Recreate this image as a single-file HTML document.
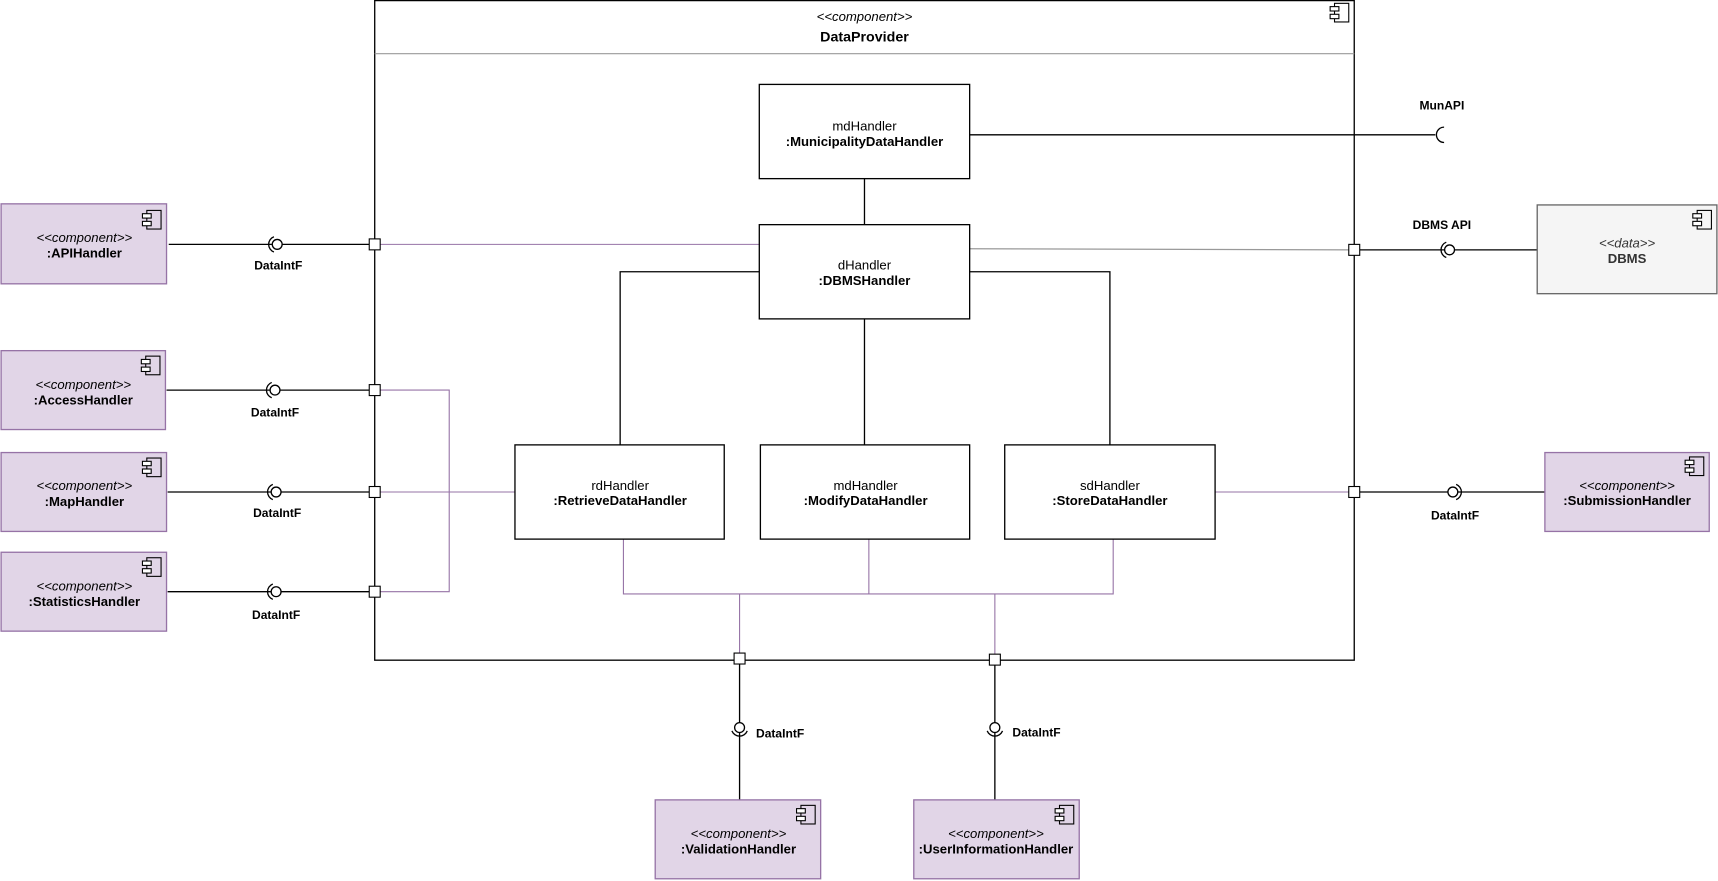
<!DOCTYPE html>
<html><head><meta charset="utf-8"><style>
html,body{margin:0;padding:0;background:#fff;}
svg{display:block;}
text{font-family:"Liberation Sans",Arial,sans-serif;fill:#000;}
.b{font-weight:bold;}
.i{font-style:italic;}
</style></head><body>
<svg width="1718" height="881" viewBox="0 0 1568 804" xmlns="http://www.w3.org/2000/svg">
<defs>
<g id="ic" fill="#fff" stroke="#000" stroke-width="1">
<rect x="4" y="0" width="13" height="17" fill="none"/>
<rect x="0" y="3" width="8" height="4"/>
<rect x="0" y="10" width="8" height="4"/>
</g>
</defs>
<!-- main container -->
<rect x="342" y="0.5" width="894" height="602" fill="#fff" stroke="#000" stroke-width="1.2"/>
<line x1="342" y1="49" x2="1236" y2="49" stroke="#999" stroke-width="1"/>
<use href="#ic" x="1214" y="3"/>
<text x="789" y="19" font-size="12" text-anchor="middle" class="i">&lt;&lt;component&gt;&gt;</text>
<text x="789" y="38" font-size="13" text-anchor="middle" class="b">DataProvider</text>

<g stroke="#000" stroke-width="1.2" fill="none">
<!-- internal black connectors -->
<line x1="885" y1="123" x2="1310" y2="123"/>
<path d="M1318 116 A7 7 0 0 0 1318 130"/>
<line x1="789" y1="163" x2="789" y2="205"/>
<polyline points="693,248 566,248 566,406"/>
<polyline points="885,248 1013,248 1013,406"/>
<line x1="789" y1="291" x2="789" y2="406"/>
<!-- left externals -->
<line x1="154" y1="223" x2="342" y2="223"/>
<line x1="152" y1="356" x2="342" y2="356"/>
<line x1="153" y1="449" x2="342" y2="449"/>
<line x1="153" y1="540" x2="342" y2="540"/>
<!-- right -->
<line x1="1236" y1="228" x2="1403" y2="228"/>
<line x1="1236" y1="449" x2="1410" y2="449"/>
<!-- bottom -->
<line x1="675" y1="602" x2="675" y2="730"/>
<line x1="908" y1="602" x2="908" y2="730"/>
</g>
<g stroke="#9673a6" stroke-width="1" fill="none">
<line x1="342" y1="223" x2="693" y2="223"/>
<polyline points="342,356 410,356 410,540 342,540"/>
<line x1="342" y1="449" x2="470" y2="449"/>
<line x1="1109" y1="449" x2="1236" y2="449"/>
<polyline points="569,492 569,542 1016,542 1016,492"/>
<line x1="793" y1="492" x2="793" y2="542"/>
<line x1="675" y1="542" x2="675" y2="602"/>
<line x1="908" y1="542" x2="908" y2="602"/>
</g>
<line x1="885" y1="227" x2="1236" y2="228" stroke="#999" stroke-width="1.2"/>

<!-- sockets -->
<g stroke="#000" stroke-width="1.2" fill="#fff">
<circle cx="253" cy="223" r="4.5"/><path d="M250 216 A7.5 7.5 0 0 0 250 230" fill="none"/>
<circle cx="251" cy="356" r="4.5"/><path d="M248 349 A7.5 7.5 0 0 0 248 363" fill="none"/>
<circle cx="252" cy="449" r="4.5"/><path d="M249 442 A7.5 7.5 0 0 0 249 456" fill="none"/>
<circle cx="252" cy="540" r="4.5"/><path d="M249 533 A7.5 7.5 0 0 0 249 547" fill="none"/>
<circle cx="1323" cy="228" r="4.5"/><path d="M1320 221 A7.5 7.5 0 0 0 1320 235" fill="none"/>
<circle cx="1326" cy="449" r="4.5"/><path d="M1329 442 A7.5 7.5 0 0 1 1329 456" fill="none"/>
<circle cx="675" cy="664" r="4.5"/><path d="M668 667 A7.5 7.5 0 0 0 682 667" fill="none"/>
<circle cx="908" cy="664" r="4.5"/><path d="M901 667 A7.5 7.5 0 0 0 915 667" fill="none"/>
</g>
<!-- ports -->
<g stroke="#000" stroke-width="1" fill="#fff">
<rect x="337" y="218" width="10" height="10"/>
<rect x="337" y="351" width="10" height="10"/>
<rect x="337" y="444" width="10" height="10"/>
<rect x="337" y="535" width="10" height="10"/>
<rect x="1231" y="223" width="10" height="10"/>
<rect x="1231" y="444" width="10" height="10"/>
<rect x="670" y="596" width="10" height="10"/>
<rect x="903" y="597" width="10" height="10"/>
</g>

<!-- internal boxes -->
<g stroke="#000" stroke-width="1.2" fill="#fff">
<rect x="693" y="77" width="192" height="86"/>
<rect x="693" y="205" width="192" height="86"/>
<rect x="470" y="406" width="191" height="86"/>
<rect x="694" y="406" width="191" height="86"/>
<rect x="917" y="406" width="192" height="86"/>
</g>
<g font-size="12" text-anchor="middle">
<text x="789" y="119">mdHandler</text><text x="789" y="133" class="b">:MunicipalityDataHandler</text>
<text x="789" y="246">dHandler</text><text x="789" y="260" class="b">:DBMSHandler</text>
<text x="566" y="447">rdHandler</text><text x="566" y="461" class="b">:RetrieveDataHandler</text>
<text x="790" y="447">mdHandler</text><text x="790" y="461" class="b">:ModifyDataHandler</text>
<text x="1013" y="447">sdHandler</text><text x="1013" y="461" class="b">:StoreDataHandler</text>
</g>

<!-- external components -->
<g stroke="#9673a6" stroke-width="1.2" fill="#e1d5e7">
<rect x="1" y="186" width="151" height="73"/>
<rect x="1" y="320" width="150" height="72"/>
<rect x="1" y="413" width="151" height="72"/>
<rect x="1" y="504" width="151" height="72"/>
<rect x="1410" y="413" width="150" height="72"/>
<rect x="598" y="730" width="151" height="72"/>
<rect x="834" y="730" width="151" height="72"/>
</g>
<rect x="1403" y="187" width="164" height="81" fill="#f5f5f5" stroke="#666" stroke-width="1.2"/>
<use href="#ic" x="130" y="192"/>
<use href="#ic" x="129" y="325"/>
<use href="#ic" x="130" y="418"/>
<use href="#ic" x="130" y="509"/>
<use href="#ic" x="1538" y="417"/>
<use href="#ic" x="727" y="735"/>
<use href="#ic" x="963" y="735"/>
<use href="#ic" x="1545" y="192"/>
<g font-size="12" text-anchor="middle">
<text x="77" y="221" class="i">&lt;&lt;component&gt;&gt;</text><text x="77" y="235" class="b">:APIHandler</text>
<text x="76" y="355" class="i">&lt;&lt;component&gt;&gt;</text><text x="76" y="369" class="b">:AccessHandler</text>
<text x="77" y="447" class="i">&lt;&lt;component&gt;&gt;</text><text x="77" y="462" class="b">:MapHandler</text>
<text x="77" y="539" class="i">&lt;&lt;component&gt;&gt;</text><text x="77" y="553" class="b">:StatisticsHandler</text>
<text x="1485" y="447" class="i">&lt;&lt;component&gt;&gt;</text><text x="1485" y="461" class="b">:SubmissionHandler</text>
<text x="674" y="765" class="i">&lt;&lt;component&gt;&gt;</text><text x="674" y="779" class="b">:ValidationHandler</text>
<text x="909" y="765" class="i">&lt;&lt;component&gt;&gt;</text><text x="909" y="779" class="b">:UserInformationHandler</text>
<text x="1485" y="226" class="i" fill="#333" style="fill:#333">&lt;&lt;data&gt;&gt;</text><text x="1485" y="240" class="b" style="fill:#333">DBMS</text>
</g>
<g font-size="11" class="b">
<text x="254" y="246" text-anchor="middle">DataIntF</text>
<text x="251" y="380" text-anchor="middle">DataIntF</text>
<text x="253" y="472" text-anchor="middle">DataIntF</text>
<text x="252" y="565" text-anchor="middle">DataIntF</text>
<text x="1328" y="474" text-anchor="middle">DataIntF</text>
<text x="1316" y="100" text-anchor="middle">MunAPI</text>
<text x="1316" y="209" text-anchor="middle">DBMS API</text>
<text x="690" y="673">DataIntF</text>
<text x="924" y="672">DataIntF</text>
</g>
</svg>
</body></html>
